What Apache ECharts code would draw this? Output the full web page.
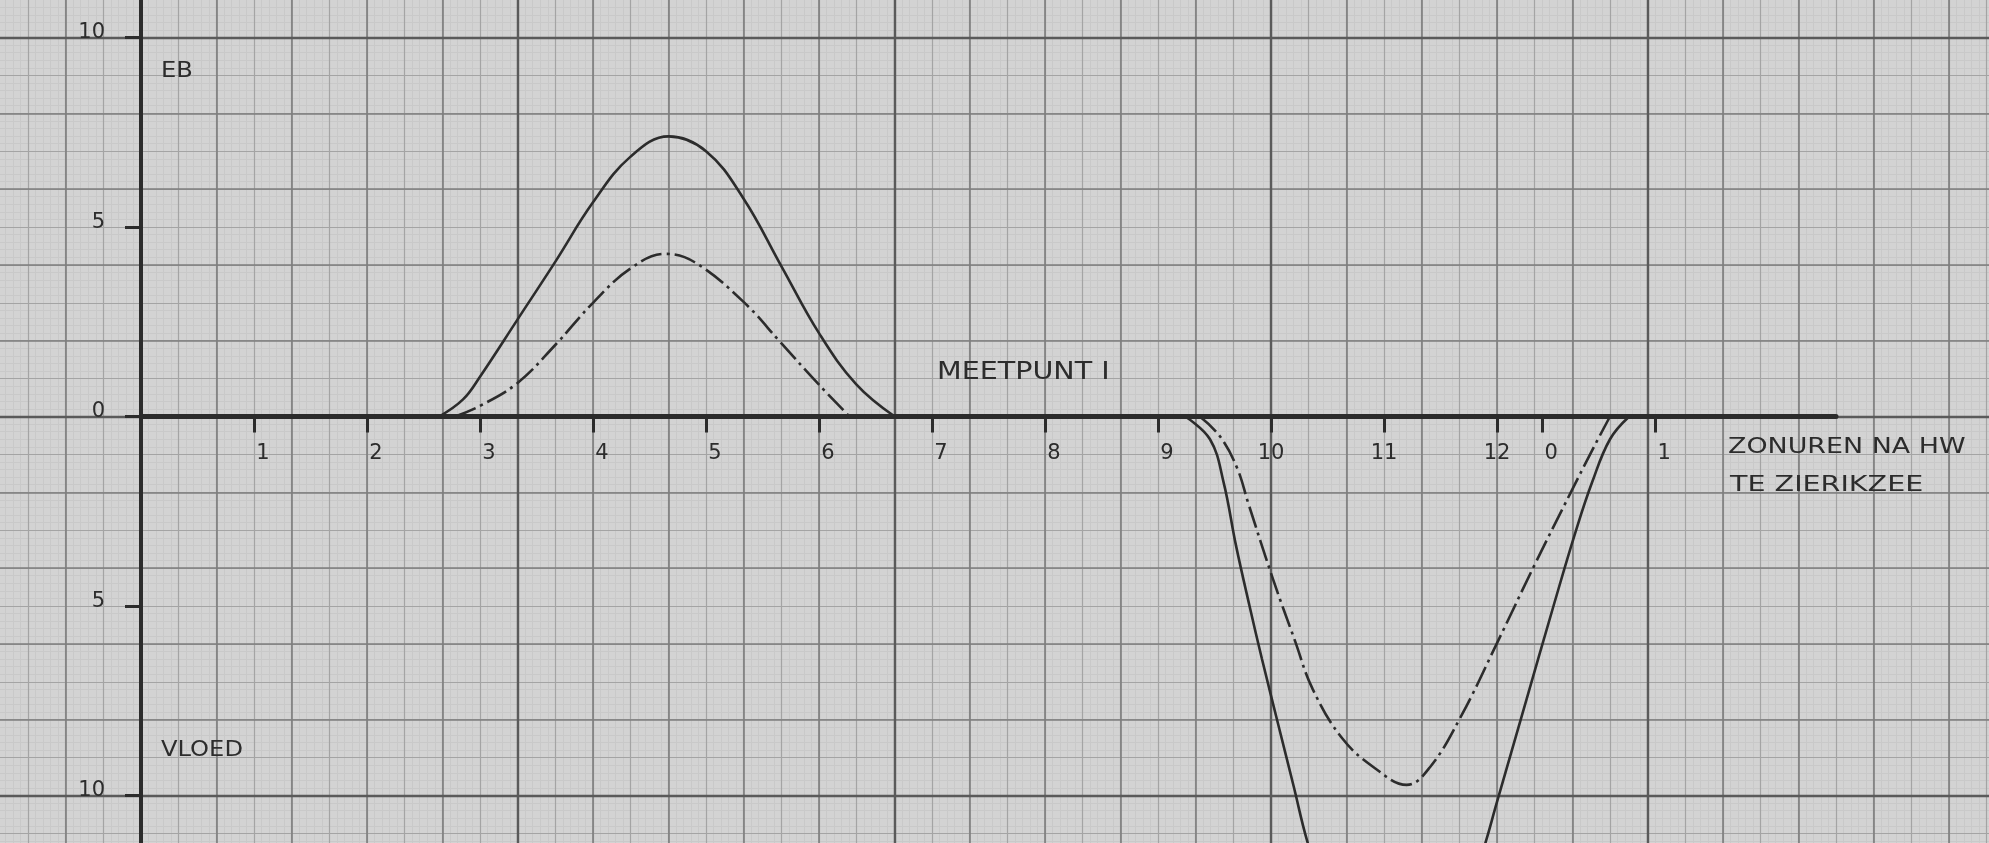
<!DOCTYPE html>
<html>
<head>
<meta charset="utf-8">
<script src="https://cdn.jsdelivr.net/npm/echarts@6/dist/echarts.min.js"></script>
<style>
html,body{margin:0;padding:0;background:#d3d3d3;}
#chart{width:1989px;height:843px;}
</style>
</head>
<body>
<div id="chart"></div>
<script>
// ---------- DATA ----------
const xTickValues = [1, 2, 3, 4, 5, 6, 7, 8, 9, 10, 11, 12, 12.4, 13.4];
const xTickLabels = ['1', '2', '3', '4', '5', '6', '7', '8', '9', '10', '11', '12', '0', '1'];
const yTickValues = [10, 5, 0, -5, -10];
const yTickLabels = ['10', '5', '0', '5', '10'];

// hours after HW Zierikzee, value (EB positive, VLOED negative)
const ebbSolid = [[2.64, 0], [2.85, 0.45], [3.0, 1.05], [3.33, 2.55], [3.67, 4.1], [4.0, 5.65], [4.33, 6.85], [4.67, 7.39], [5.0, 7.0], [5.33, 5.76], [5.67, 3.95], [6.0, 2.2], [6.33, 0.85], [6.67, 0]];
const ebbDashDot = [[2.78, 0], [3.0, 0.28], [3.33, 0.88], [3.67, 1.9], [4.0, 3.0], [4.33, 3.9], [4.64, 4.29], [4.9, 4.07], [5.33, 3.03], [5.67, 1.92], [6.0, 0.84], [6.27, 0]];
const floodSolid = [[9.24, 0], [9.46, -0.6], [9.58, -1.73], [9.69, -3.4], [9.81, -5.0], [9.92, -6.4], [10.07, -8.2], [10.2, -9.75], [10.32, -11.2], [10.6, -13.9], [11.0, -15.6], [11.45, -15.0], [11.86, -11.6], [12.0, -10.17], [12.25, -7.58], [12.5, -5.0], [12.7, -3.0], [12.84, -1.75], [13.0, -0.6], [13.17, 0]];
const floodDashDot = [[9.37, 0], [9.55, -0.53], [9.7, -1.36], [9.8, -2.3], [10.02, -4.31], [10.21, -5.9], [10.37, -7.2], [10.63, -8.49], [10.92, -9.28], [11.2, -9.72], [11.41, -9.24], [11.68, -7.92], [12.0, -5.98], [12.34, -3.87], [12.65, -2.02], [12.86, -0.79], [13.0, 0]];

const annotations = ['EB', 'VLOED', 'MEETPUNT I', 'ZONUREN NA HW', 'TE ZIERIKZEE'];

// ---------- LAYOUT ----------
const X0 = 141, PXH = 113, Y0 = 416.5, PXU = 37.9;
const INK = '#2c2c2c';
const FONT = '"DejaVu Sans", sans-serif';

// graph paper levels: mm, 5 mm, 1 cm, 5 cm
const paperLevels = [
  { xi: 1 / 15, yi: 0.2, color: '#c9c9c9', width: 1 },
  { xi: 1 / 3, yi: 1, color: '#a4a4a4', width: 1.2 },
  { xi: 2 / 3, yi: 2, color: '#7e7e7e', width: 1.6 },
  { xi: 10 / 3, yi: 10, color: '#5a5a5a', width: 2.4 }
];
const pXMin = -10 / 3, pXMax = 50 / 3, pYMin = -20, pYMax = 20;
const vYMin = -11.6, vYMax = 11.4, vXMin = 0, vXMax = 15;

const hidden = { axisLine: { show: false }, axisTick: { show: false }, axisLabel: { show: false } };

const xAxes = paperLevels.map((l, k) => Object.assign({
  type: 'value', gridIndex: 0, min: pXMin, max: pXMax, interval: l.xi, z: k,
  splitLine: { show: true, lineStyle: { color: l.color, width: l.width, type: 'solid' } }
}, hidden));
const yAxes = paperLevels.map((l, k) => Object.assign({
  type: 'value', gridIndex: 0, min: pYMin, max: pYMax, interval: l.yi, z: k,
  splitLine: { show: true, lineStyle: { color: l.color, width: l.width, type: 'solid' } }
}, hidden));

function xLabel(v) {
  const i = xTickValues.findIndex(t => Math.abs(t - v) < 1e-6);
  if (i < 0) return '';
  const s = xTickLabels[i];
  return s.length === 1 ? '{s|' + s + '}' : '{d|' + s + '}';
}
function yLabel(v) {
  const i = yTickValues.findIndex(t => Math.abs(t - v) < 1e-6);
  return i < 0 ? '' : yTickLabels[i];
}

// data axes (grid 1): y axis visible, x axis hidden
const VIS = paperLevels.length;
xAxes.push(Object.assign({ type: 'value', gridIndex: 1, min: vXMin, max: vXMax, splitLine: { show: false } }, hidden));
yAxes.push({
  type: 'value', gridIndex: 1, min: vYMin, max: vYMax, z: 6,
  axisLine: { show: true, onZero: false, lineStyle: { color: INK, width: 4 } },
  axisTick: { show: true, customValues: yTickValues, length: 16, lineStyle: { color: INK, width: 3 } },
  axisLabel: {
    show: true, customValues: yTickValues, formatter: yLabel, margin: 36,
    align: 'right', verticalAlign: 'bottom', lineHeight: 9,
    color: INK, fontFamily: FONT, fontSize: 21
  },
  splitLine: { show: false }
});
// time axis (grid 2) whose bottom edge is the zero line
xAxes.push({
  type: 'value', gridIndex: 2, min: vXMin, max: vXMax, position: 'bottom', z: 6,
  axisLine: { show: true, onZero: false, lineStyle: { color: INK, width: 5 } },
  axisTick: { show: true, customValues: xTickValues, length: 16, lineStyle: { color: INK, width: 3 } },
  axisLabel: {
    show: true, customValues: xTickValues, formatter: xLabel, margin: 37,
    verticalAlign: 'middle', color: INK, fontFamily: FONT, fontSize: 21,
    rich: {
      s: { padding: [0, 0, 0, 18], color: INK, fontFamily: FONT, fontSize: 21 },
      d: { color: INK, fontFamily: FONT, fontSize: 21 }
    }
  },
  splitLine: { show: false }
});
yAxes.push(Object.assign({ type: 'value', gridIndex: 2, min: 0, max: 1, splitLine: { show: false } }, hidden));

function lineSeries(data, type) {
  return {
    type: 'line', xAxisIndex: VIS, yAxisIndex: VIS, data: data,
    showSymbol: false, symbol: 'none', smooth: 0.4, z: 5,
    lineStyle: { color: INK, width: 2.6, type: type, cap: 'butt' },
    emphasis: { disabled: true }, silent: true
  };
}

function txt(i, x, y, size, sx) {
  return {
    type: 'text', x: x, y: y, scaleX: sx, z: 20,
    style: { text: annotations[i], x: 0, y: 0, fill: INK, font: size + 'px ' + FONT, align: 'left', verticalAlign: 'middle' }
  };
}

const chart = echarts.init(document.getElementById('chart'), null, { renderer: 'canvas' });
chart.setOption({
  animation: false,
  backgroundColor: '#d3d3d3',
  grid: [
    { left: X0 + pXMin * PXH, top: Y0 - pYMax * PXU, width: (pXMax - pXMin) * PXH, height: (pYMax - pYMin) * PXU, containLabel: false, outerBoundsMode: 'none' },
    { left: X0 + vXMin * PXH, top: Y0 - vYMax * PXU, width: (vXMax - vXMin) * PXH, height: (vYMax - vYMin) * PXU, containLabel: false, outerBoundsMode: 'none' },
    { left: X0 + vXMin * PXH, top: Y0 - 100, width: (vXMax - vXMin) * PXH, height: 100, containLabel: false, outerBoundsMode: 'none' }
  ],
  xAxis: xAxes,
  yAxis: yAxes,
  series: [
    lineSeries(ebbSolid, 'solid'),
    lineSeries(ebbDashDot, [22, 5, 3, 5]),
    lineSeries(floodSolid, 'solid'),
    lineSeries(floodDashDot, [22, 5, 3, 5])
  ],
  graphic: [
    txt(0, 161, 71.5, 22, 1.1),
    txt(1, 161, 750.5, 21, 1.15),
    txt(2, 937, 372.5, 24, 1.19),
    txt(3, 1728, 447.5, 21, 1.28),
    txt(4, 1730, 485.5, 21, 1.36)
  ]
});
</script>
</body>
</html>
